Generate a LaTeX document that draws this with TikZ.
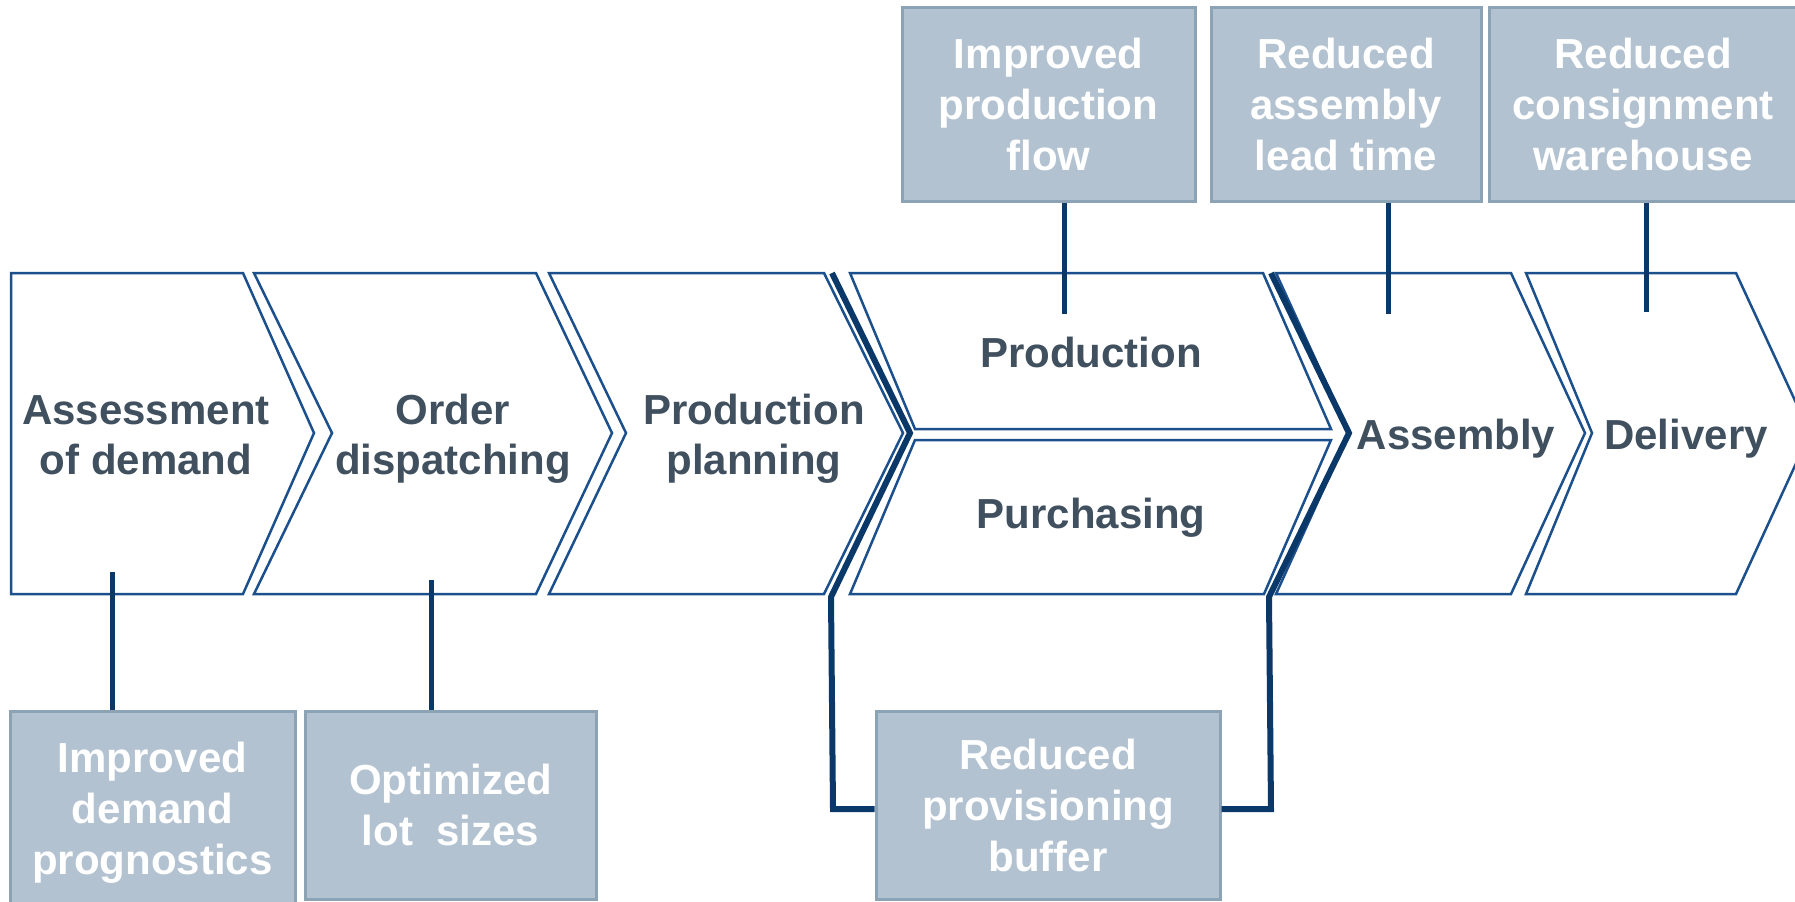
\documentclass[tikz,border=0pt]{standalone}
\usepackage{fontspec}
\setmainfont{Liberation Sans}
\definecolor{chev}{RGB}{28,80,140}
\definecolor{navy}{RGB}{10,56,104}
\definecolor{boxfill}{RGB}{179,194,209}
\definecolor{boxborder}{RGB}{140,162,181}
\definecolor{stagetext}{RGB}{64,80,94}
\tikzset{
  chevron/.style={draw=chev, line width=1.25pt, fill=white, line join=miter},
  bracket/.style={draw=navy, line width=3pt, line join=miter},
  conn/.style={draw=navy, line width=2.5pt},
  stage/.style={font=\bfseries\fontsize{21}{25}\selectfont, text=stagetext, align=center, inner sep=0pt},
  benefit/.style={draw=boxborder, fill=boxfill, line width=1.5pt, font=\bfseries\fontsize{21}{25.5}\selectfont, text=white, align=center, inner sep=0pt},
}
\begin{document}
\begin{tikzpicture}[x=0.5pt,y=-0.5pt]
\useasboundingbox (0,0) rectangle (1795,901);
\begin{scope}
\clip (0,0) rectangle (1795,901);
% chevrons
\draw[chevron] (11,273) -- (243,273) -- (314,433) -- (243,594) -- (11,594) -- cycle;
\draw[chevron] (254,273) -- (536,273) -- (612,433) -- (536,594) -- (254,594) -- (332,433) -- cycle;
\draw[chevron] (549,273) -- (824,273) -- (903,433) -- (824,594) -- (549,594) -- (626,433) -- cycle;
\draw[chevron] (850,273) -- (1263,273) -- (1331,429) -- (915,429) -- cycle;
\draw[chevron] (915,440) -- (1331,440) -- (1264,594) -- (850,594) -- cycle;
\draw[chevron] (1276,273) -- (1511,273) -- (1585,433) -- (1511,594) -- (1276,594) -- (1349,433) -- cycle;
\draw[chevron] (1526,273) -- (1736,273) -- (1810,433) -- (1736,594) -- (1526,594) -- (1592,433) -- cycle;
% stage labels
\node[stage] (s1) at (146,435) {Assessment\\of demand};
\node[stage] (s2) at (453,439) {Order\\dispatching};
\node[stage] (s3) at (754,439) {Production\\planning};
\node[stage] (s4) at (1091,352) {Production};
\node[stage] (s5) at (1091,518) {Purchasing};
\node[stage] (s6) at (1456,439) {Assembly};
\node[stage] (s7) at (1686,439) {Delivery};
% benefit boxes
\node[benefit, minimum width=146.5pt, minimum height=97pt] (b1) at (1048.5,104) {Improved\\production\\flow};
\node[benefit, minimum width=135pt, minimum height=97pt] (b2) at (1346,104) {Reduced\\assembly\\lead time};
\node[benefit, minimum width=154pt, minimum height=97pt] (b3) at (1643,104) {Reduced\\consignment\\warehouse};
\node[benefit, minimum width=142.5pt, minimum height=101.5pt] (b4) at (152.5,812.5) {Improved\\demand\\prognostics};
\node[benefit, minimum width=145.5pt, minimum height=94pt] (b5) at (450.5,805) {Optimized\\lot~ sizes};
\node[benefit, minimum width=172pt, minimum height=94pt] (b6) at (1048,805) {Reduced\\provisioning\\buffer};
% connectors
\coordinate (c1) at (112,572);
\coordinate (c2) at (431,580);
\coordinate (c3) at (1064,314);
\coordinate (c4) at (1388,314);
\coordinate (c5) at (1646,312);
\draw[conn] (c1) -- (c1 |- b4.north);
\draw[conn] (c2) -- (c2 |- b5.north);
\draw[conn] (c3 |- b1.south) -- (c3);
\draw[conn] (c4 |- b2.south) -- (c4);
\draw[conn] (c5 |- b3.south) -- (c5);
% brackets
\coordinate (bl) at (832,273);
\coordinate (br) at (1271,273);
\draw[bracket] (bl) -- (910,433) -- (831,597) -- (833,809) -- ([yshift=-2pt]b6.west);
\draw[bracket] (br) -- (1349,433) -- (1269,597) -- (1271,809) -- ([yshift=-2pt]b6.east);
\end{scope}
\end{tikzpicture}
\end{document}
